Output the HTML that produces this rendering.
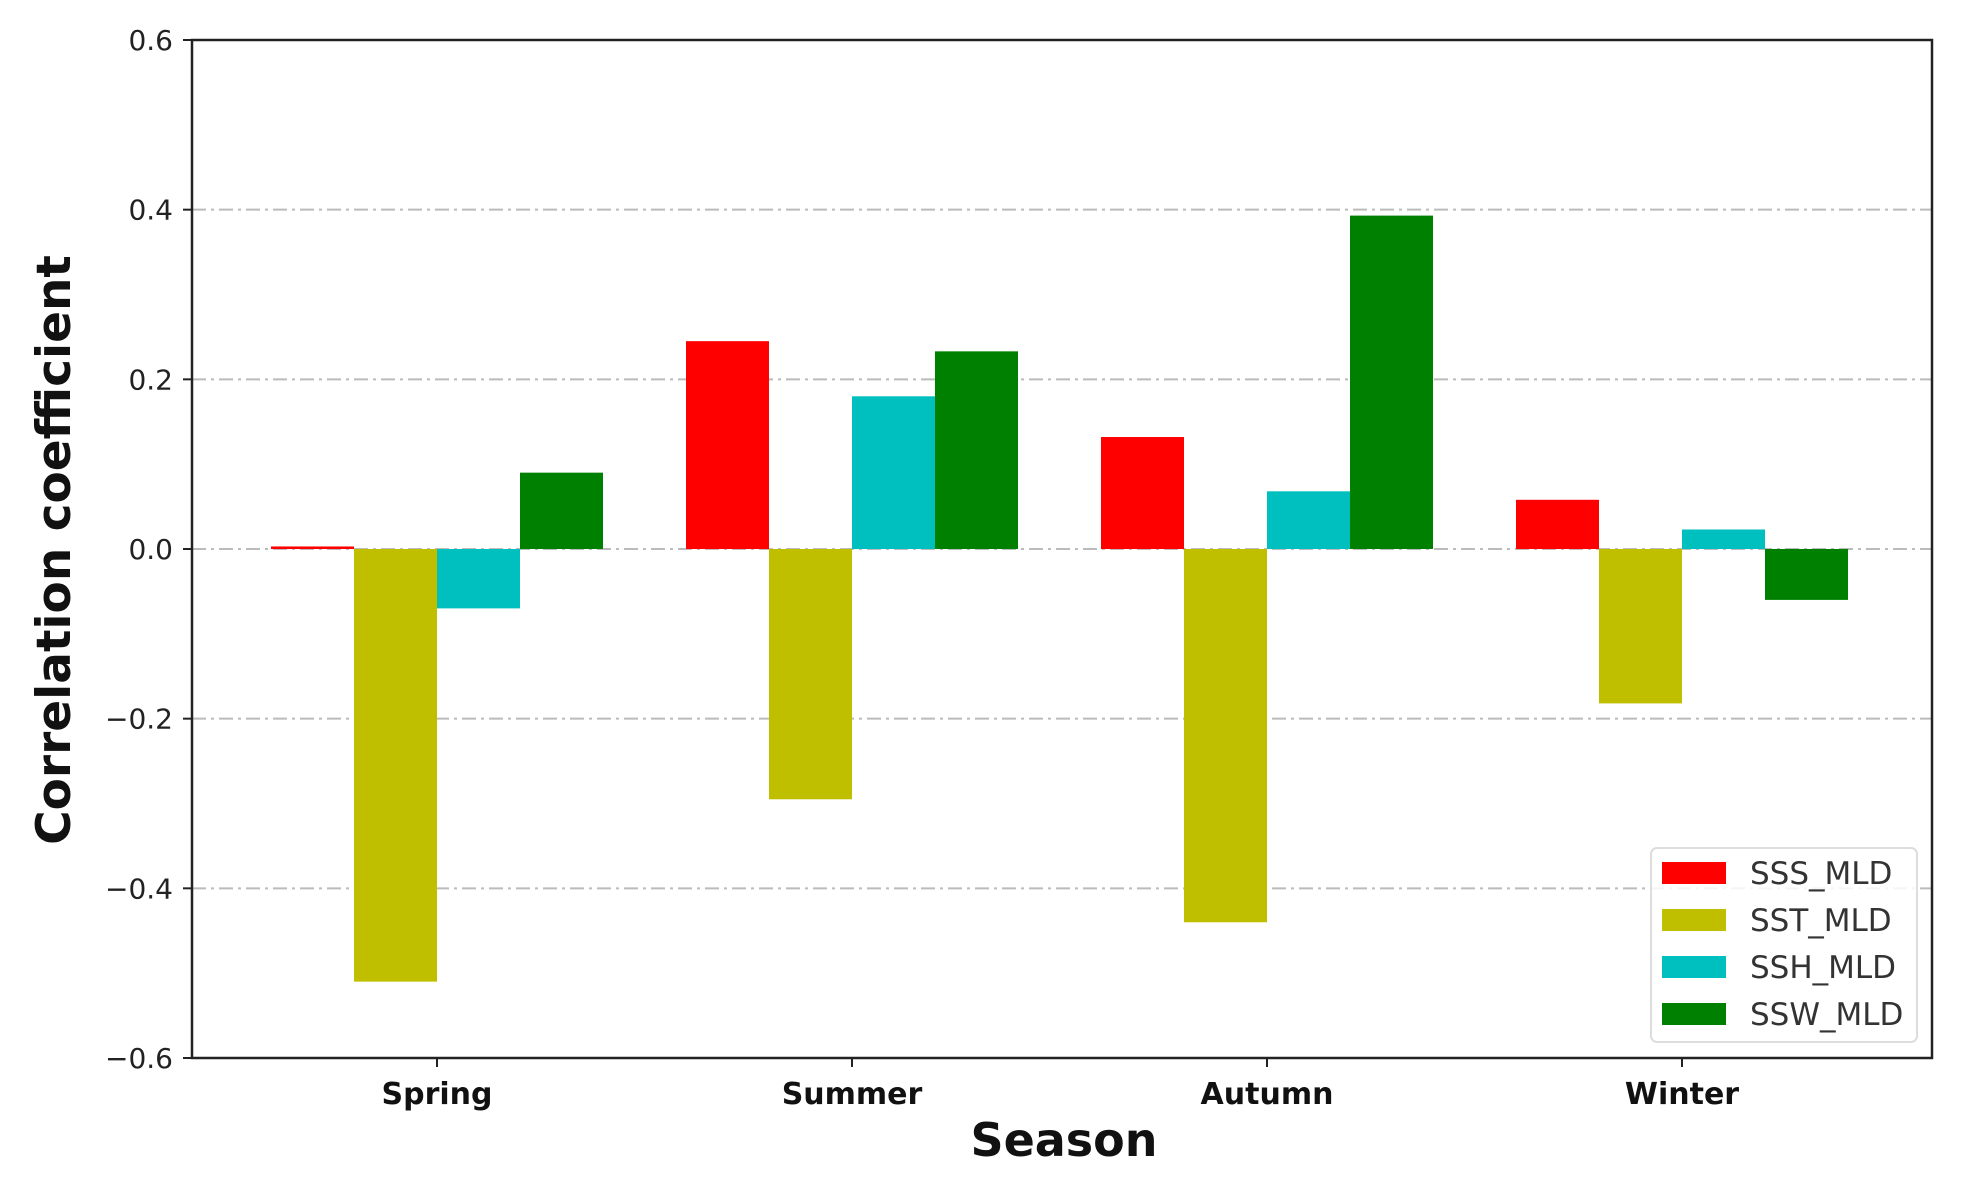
<!DOCTYPE html>
<html><head><meta charset="utf-8"><style>
html,body{margin:0;padding:0;background:#fff;}
svg{display:block;font-family:"DejaVu Sans","Liberation Sans",sans-serif;}
</style></head><body>
<svg id="chart" width="1967" height="1192">
<g id="grid"></g>
<g id="bars"></g>
<rect x="192" y="40" width="1740" height="1018" fill="none" stroke="#222" stroke-width="2.5"/>
<g id="yticks"></g>
<g id="xticks"></g>
<text x="70" y="550" transform="rotate(-90 70 550)" text-anchor="middle" font-size="47" font-weight="bold" fill="#111">Correlation coefficient</text>
<text x="1064" y="1156" text-anchor="middle" font-size="46" font-weight="bold" fill="#111">Season</text>
<g id="legend">
<rect x="1651" y="848" width="266" height="194" rx="6" fill="#fff" fill-opacity="0.85" stroke="#ddd" stroke-width="2"/>
</g>
</svg>
<script>
const categories = ["Spring","Summer","Autumn","Winter"];
const seriesNames = ["SSS_MLD","SST_MLD","SSH_MLD","SSW_MLD"];
const sss = [0.003, 0.245, 0.132, 0.058];
const sst = [-0.51, -0.295, -0.44, -0.182];
const ssh = [-0.07, 0.18, 0.068, 0.023];
const ssw = [0.09, 0.233, 0.393, -0.06];
const yTicks = [0.6, 0.4, 0.2, 0.0, -0.2, -0.4, -0.6];
const yTickLabels = ["0.6","0.4","0.2","0.0","\u22120.2","\u22120.4","\u22120.6"];
const colors = ["#ff0000","#bfbf00","#00bfbf","#008000"];
const series = [sss, sst, ssh, ssw];

const NS = "http://www.w3.org/2000/svg";
const yTop = 40, yBot = 1058, yMin = -0.6, yMax = 0.6;
function y(v){ return yBot - (v - yMin) / (yMax - yMin) * (yBot - yTop); }
const x0 = 437, step = 415;
function x(i){ return x0 + i * step; }
const barW = step * 0.8 / 4;
function mk(tag, attrs, parent){ const e = document.createElementNS(NS, tag); for (const k in attrs) e.setAttribute(k, attrs[k]); parent.appendChild(e); return e; }

const grid = document.getElementById('grid');
const yt = document.getElementById('yticks');
yTicks.forEach((t, i) => {
  if (t !== 0.6 && t !== -0.6) {
    const g = mk('line', {x1:192, x2:1932, y1:y(t), y2:y(t), stroke:'#bbb', 'stroke-width':2, 'stroke-dasharray':'14 5 3 5'}, grid);
    
    
  }
  const tk = mk('line', {x1:183, x2:192, y1:y(t), y2:y(t), stroke:'#222', 'stroke-width':2}, yt);
  
  
  const tx = mk('text', {x:173, y:y(t)+10, 'text-anchor':'end', 'font-size':28, fill:'#222'}, yt);
  tx.textContent = yTickLabels[i];
  
  
});

const xt = document.getElementById('xticks');
categories.forEach((c, i) => {
  const tk = mk('line', {x1:x(i), x2:x(i), y1:1058, y2:1067, stroke:'#222', 'stroke-width':2}, xt);
  
  
  const tx = mk('text', {x:x(i), y:1104, 'text-anchor':'middle', 'font-size':30, 'font-weight':'bold', fill:'#111'}, xt);
  tx.textContent = c;
  
  
});

const bars = document.getElementById('bars');
series.forEach((vals, s) => {
  vals.forEach((v, i) => {
    const bx = x(i) - 2 * barW + s * barW;
    const top = Math.min(y(v), y(0)), h = Math.max(Math.abs(y(v) - y(0)), 1.5);
    const r = mk('rect', {x:bx, y:top, width:barW, height:h, fill:colors[s]}, bars);
    
    
  });
});

const lg = document.getElementById('legend');
seriesNames.forEach((n, s) => {
  const cy = 873 + s * 47;
  const sw = mk('rect', {x:1662, y:cy-11, width:64, height:22, fill:colors[s]}, lg);
  
  
  const t = mk('text', {x:1750, y:cy+11, 'font-size':31, fill:'#333'}, lg);
  t.textContent = n;
  
  
});
</script>
</body></html>
